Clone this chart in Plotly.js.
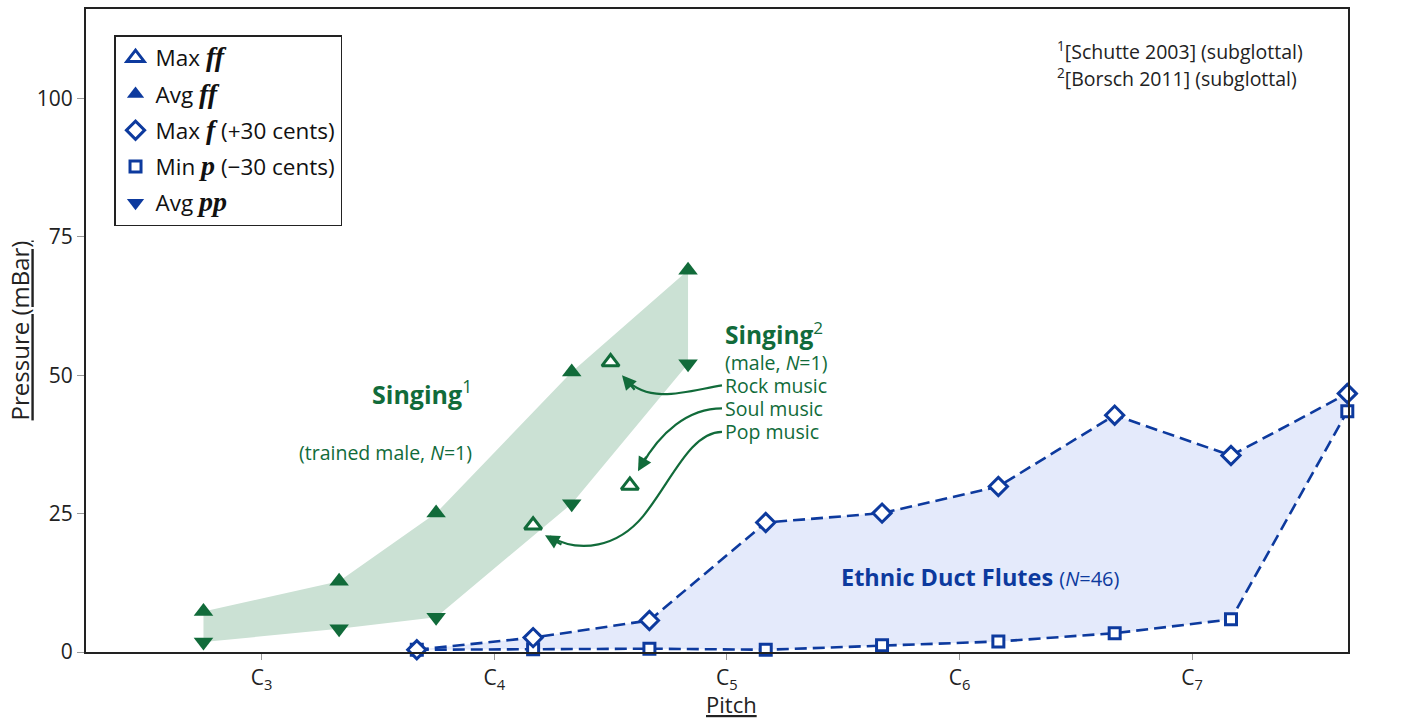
<!DOCTYPE html>
<html><head><meta charset="utf-8">
<script src="https://cdn.plot.ly/plotly-3.0.1.min.js"></script>
<style>html,body{margin:0;padding:0;background:#fff}#chart{width:1421px;height:719px}</style>
</head><body><div id="chart"></div>
<script>
// Pitch expressed in octaves (C3 = 3, C4 = 4, ...)
const tickVals = [3, 4, 5, 6, 7];
const tickText = ['C<sub>3</sub>', 'C<sub>4</sub>', 'C<sub>5</sub>', 'C<sub>6</sub>', 'C<sub>7</sub>'];
const yTicks = [0, 25, 50, 75, 100];

// Singing 1 (Schutte 2003): A2, E3, A3, E4, Bb4
const sing1Pitch = [2.75, 3.333, 3.75, 4.333, 4.833];
const sing1AvgFF = [7.3, 12.8, 25.1, 50.6, 69.0];
const sing1AvgPP = [1.8, 4.2, 6.3, 26.8, 52.1];

// Singing 2 (Borsch 2011): Pop, Rock, Soul max ff
const sing2Pitch = [4.167, 4.5, 4.583];
const sing2MaxFF = [22.9, 52.4, 30.1];

// Ethnic duct flutes (N=46): G#3 ... G#7
const flutePitch = [3.667, 4.167, 4.667, 5.167, 5.667, 6.167, 6.667, 7.167, 7.667];
const fluteMaxF = [0.4, 2.6, 5.7, 23.4, 25.1, 29.9, 42.8, 35.5, 46.7];
const fluteMinP = [0.4, 0.5, 0.6, 0.4, 1.2, 1.9, 3.4, 5.9, 43.5];

const GREEN = '#116b3a', GREENFILL = '#cbe1d4';
const BLUE = '#0d3a9e', BLUEFILL = '#e4eafb';
const FONT = 'Open Sans, Noto Sans, sans-serif';
const SERIF = 'font-family:Liberation Serif;font-weight:bold;font-style:italic;font-size:28px';
const dyn = s => '<span style="' + SERIF + '">' + s + '</span>';

const rev = a => a.slice().reverse();
const traces = [];
// green band
traces.push({x: sing1Pitch.concat(rev(sing1Pitch)), y: sing1AvgFF.concat(rev(sing1AvgPP)),
  type: 'scatter', mode: 'lines', fill: 'toself', fillcolor: GREENFILL, line: {width: 0},
  showlegend: false, hoverinfo: 'skip'});
// blue band
traces.push({x: flutePitch.concat(rev(flutePitch)), y: fluteMaxF.concat(rev(fluteMinP)),
  type: 'scatter', mode: 'lines', fill: 'toself', fillcolor: BLUEFILL, line: {width: 0},
  showlegend: false, hoverinfo: 'skip'});
const dashLine = {color: BLUE, width: 2.6, dash: '12px,6px'};
traces.push({x: flutePitch, y: fluteMinP, type: 'scatter', mode: 'lines+markers', line: dashLine,
  marker: {symbol: 'square', size: 11, color: '#fff', line: {color: BLUE, width: 3}},
  showlegend: false, cliponaxis: false});
traces.push({x: flutePitch, y: fluteMaxF, type: 'scatter', mode: 'lines+markers', line: dashLine,
  marker: {symbol: 'diamond', size: 14, color: '#fff', line: {color: BLUE, width: 3}},
  showlegend: false, cliponaxis: false});
traces.push({x: sing1Pitch, y: sing1AvgFF, type: 'scatter', mode: 'markers',
  marker: {symbol: 'triangle-up', size: 17, color: GREEN}, showlegend: false, cliponaxis: false});
traces.push({x: sing1Pitch, y: sing1AvgPP, type: 'scatter', mode: 'markers',
  marker: {symbol: 'triangle-down', size: 17, color: GREEN}, showlegend: false, cliponaxis: false});
traces.push({x: sing2Pitch, y: sing2MaxFF, type: 'scatter', mode: 'markers',
  marker: {symbol: 'triangle-up', size: 15, color: '#fff', line: {color: GREEN, width: 3}},
  showlegend: false, cliponaxis: false});

// legend-only entries (blue symbols, as in the key)
const legendItems = [
  {name: 'Max ' + dyn('ff'), marker: {symbol: 'triangle-up', size: 15, color: '#fff', line: {color: BLUE, width: 3}}},
  {name: 'Avg ' + dyn('ff'), marker: {symbol: 'triangle-up', size: 15, color: BLUE}},
  {name: 'Max ' + dyn('f') + ' (+30 cents)', marker: {symbol: 'diamond', size: 14, color: '#fff', line: {color: BLUE, width: 3}}},
  {name: 'Min ' + dyn('p') + ' (\u221230 cents)', marker: {symbol: 'square', size: 11, color: '#fff', line: {color: BLUE, width: 3}}},
  {name: 'Avg ' + dyn('pp'), marker: {symbol: 'triangle-down', size: 15, color: BLUE}}
];
legendItems.forEach((it, i) => traces.push({x: [null], y: [null], type: 'scatter', mode: 'markers',
  name: it.name, marker: it.marker, legendgroup: 'g' + i, showlegend: true}));

// pixel -> data helpers for annotation placement
const toX = px => 3 + (px - 261.7) / 232.6;
const toY = py => (651.6 - py) / 5.532;
const P = (px, py) => toX(px) + ',' + toY(py);

const ann = (px, py, text, size, color, xanchor, extra) => Object.assign({
  x: toX(px), y: toY(py), xref: 'x', yref: 'y', text: text, showarrow: false,
  xanchor: xanchor, yanchor: 'middle', font: {family: FONT, size: size, color: color}}, extra || {});

const annotations = [
  ann(474, 392, '<b>Singing</b><sup>1</sup>', 25, GREEN, 'right'),
  ann(474, 452, '(trained male, <i>N</i>=1)', 19.5, GREEN, 'right'),
  ann(723, 333, '<b>Singing</b><sup>2</sup>', 24.5, GREEN, 'left'),
  ann(723, 362, '(male, <i>N</i>=1)', 19.5, GREEN, 'left'),
  ann(723, 385, 'Rock music', 19.5, GREEN, 'left'),
  ann(723, 408, 'Soul music', 19.5, GREEN, 'left'),
  ann(723, 431, 'Pop music', 19.5, GREEN, 'left'),
  ann(980, 577, '<b>Ethnic Duct Flutes</b> <span style="font-size:20px">(<i>N</i>=46)</span>', 23.5, BLUE, 'center'),
  ann(1055, 50, '<sup>1</sup>[Schutte 2003] (subglottal)', 19.5, '#222', 'left'),
  ann(1055, 77, '<sup>2</sup>[Borsch 2011] (subglottal)', 19.5, '#222', 'left'),
  {x: (731 - 86) / 1262, y: (651.6 - 704) / 642.6, xref: 'paper', yref: 'paper', showarrow: false,
   text: 'Pitch', xanchor: 'center', yanchor: 'middle',
   font: {family: FONT, size: 22, color: '#222', lineposition: 'under'}}
];
// arrowheads
const head = (px, py, ax, ay) => ({x: toX(px), y: toY(py), xref: 'x', yref: 'y', text: '', showarrow: true,
  arrowhead: 2, arrowsize: 1.3, arrowwidth: 2.2, arrowcolor: GREEN, ax: ax, ay: ay, standoff: 0});
annotations.push(head(622, 375, 14, 16), head(638, 471, 9, -16), head(545, 535, 18, 10));

const pathLine = {color: GREEN, width: 2.2};
const shapes = [
  {type: 'path', xref: 'x', yref: 'y', line: pathLine,
   path: 'M' + P(722, 385) + ' C' + P(690, 390) + ' ' + P(650, 405) + ' ' + P(626, 379)},
  {type: 'path', xref: 'x', yref: 'y', line: pathLine,
   path: 'M' + P(722, 408) + ' C' + P(688, 408) + ' ' + P(660, 432) + ' ' + P(641, 466)},
  {type: 'path', xref: 'x', yref: 'y', line: pathLine,
   path: 'M' + P(722, 431.5) + ' C' + P(690, 432) + ' ' + P(672, 480) + ' ' + P(643, 516) +
         ' C' + P(618, 546) + ' ' + P(580, 554) + ' ' + P(550, 536)}
];

const yRange = [0, 116.2];
const layout = {
  width: 1421, height: 719,
  margin: {l: 86, r: 73, t: 9, b: 67, pad: 0},
  paper_bgcolor: '#fff', plot_bgcolor: '#fff',
  font: {family: FONT, size: 20, color: '#222'},
  showlegend: true,
  legend: {x: 0.0222, y: 0.9595, xanchor: 'left', yanchor: 'top', bgcolor: '#fff',
    bordercolor: '#222', borderwidth: 1.5, traceorder: 'grouped', tracegroupgap: 4,
    font: {family: FONT, size: 22.5, color: '#111'}},
  xaxis: {range: [2.245, 7.67], tickmode: 'array', tickvals: tickVals, ticktext: tickText,
    showgrid: false, zeroline: false, showline: true, linecolor: '#222', linewidth: 2, mirror: true,
    ticks: 'outside', ticklen: 6, tickcolor: '#999', tickwidth: 1,
    tickfont: {family: FONT, size: 21, color: '#222'}},
  yaxis: {range: yRange, tickmode: 'array', tickvals: yTicks, showgrid: false, zeroline: false,
    showline: true, linecolor: '#222', linewidth: 2, mirror: true,
    ticks: 'outside', ticklen: 7, tickcolor: '#999', tickwidth: 1,
    tickfont: {family: FONT, size: 21, color: '#222'},
    title: {text: 'Pressure (mBar)', standoff: 0, font: {family: FONT, size: 24, color: '#222', lineposition: 'under'}}},
  yaxis2: {range: yRange, overlaying: 'y', side: 'right', anchor: 'x', tickmode: 'array', tickvals: yTicks,
    showgrid: false, zeroline: false, showline: false,
    ticks: 'outside', ticklen: 7, tickcolor: '#999', tickwidth: 1,
    tickfont: {family: FONT, size: 21, color: '#222'}},
  annotations: annotations,
  shapes: shapes
};
Plotly.newPlot('chart', traces, layout, {staticPlot: true, displayModeBar: false});
</script></body></html>
